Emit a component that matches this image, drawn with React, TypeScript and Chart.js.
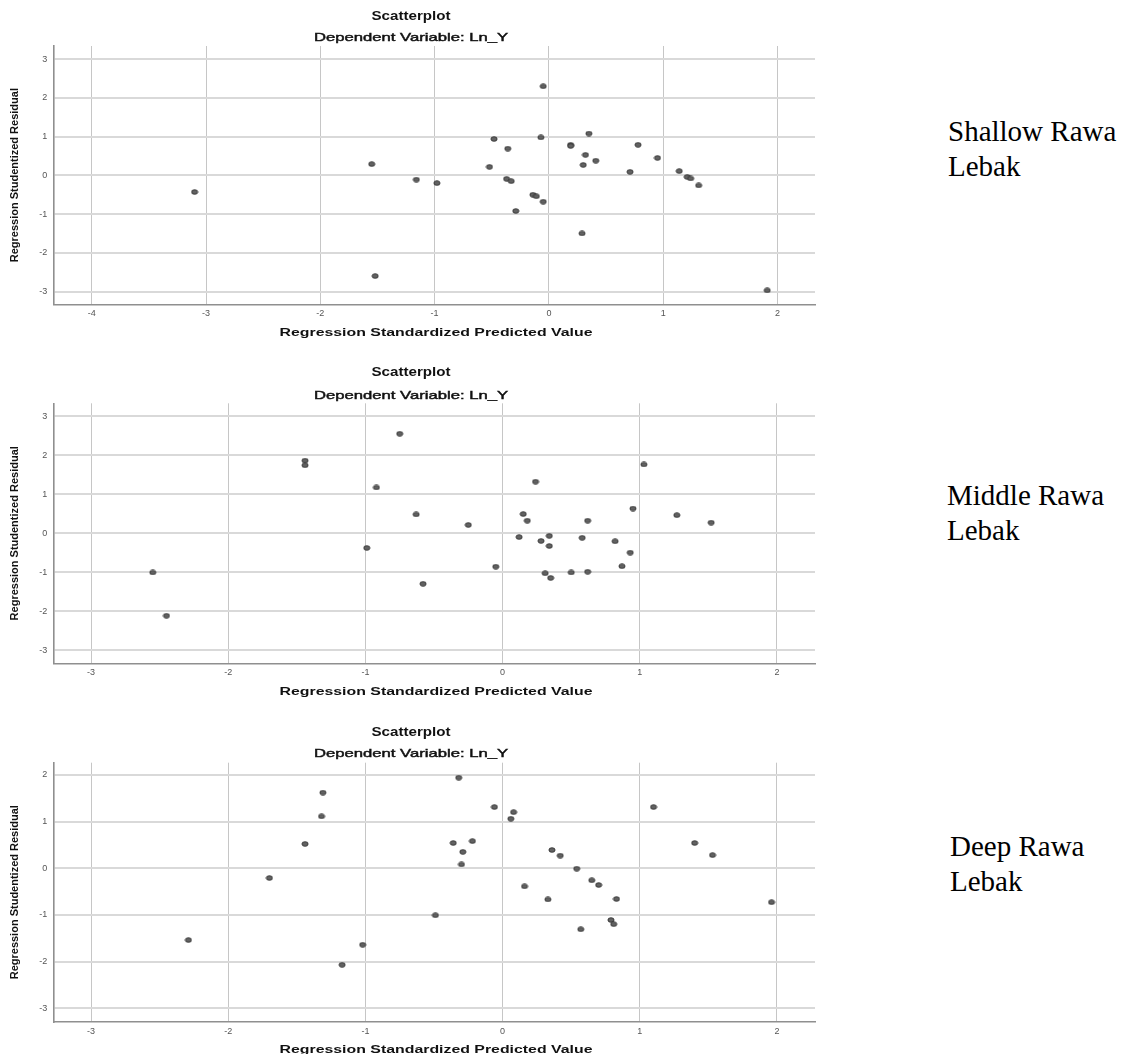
import React, { useEffect, useRef } from "react";
import { Chart, registerables } from "chart.js";

Chart.register(...registerables);

// ---------- data ----------
const shallowX = [-3.10, -1.55, -1.52, -1.16, -0.98, -0.52, -0.48, -0.37, -0.36, -0.33, -0.29, -0.14, -0.11, -0.07, -0.05, 0.19, 0.19, 0.29, 0.30, 0.32, 0.35, 0.41, 0.71, 0.78, 0.95, 1.14, 1.21, 1.24, 1.31, 1.91, -0.05];
const shallowY = [-0.43, 0.29, -2.60, -0.11, -0.20, 0.22, 0.94, -0.09, 0.69, -0.15, -0.92, -0.50, -0.54, 0.98, -0.68, 0.79, 0.76, -1.50, 0.27, 0.53, 1.08, 0.38, 0.09, 0.79, 0.45, 0.11, -0.04, -0.08, -0.26, -2.97, 2.30];

const middleX = [-0.75, -1.44, -1.44, 1.03, 0.24, -0.92, -0.63, -0.25, -0.99, -0.58, -2.55, -2.45, -0.05, 0.12, 0.15, 0.18, 0.28, 0.31, 0.34, 0.34, 0.35, 0.50, 0.58, 0.62, 0.62, 0.82, 0.87, 0.93, 0.95, 1.27, 1.52];
const middleY = [2.55, 1.86, 1.74, 1.76, 1.32, 1.17, 0.48, 0.21, -0.38, -1.30, -1.01, -2.12, -0.86, -0.10, 0.49, 0.32, -0.20, -1.03, -0.07, -0.33, -1.15, -1.01, -0.12, 0.32, -0.99, -0.21, -0.85, -0.50, 0.63, 0.46, 0.27];

const deepX = [-0.32, -1.31, -1.32, -0.06, 0.08, 0.06, 1.10, -1.44, -0.36, -0.22, -0.29, 0.36, 0.42, 1.40, 1.53, -0.30, -1.70, 0.16, 0.33, 0.54, 0.65, 0.70, 0.83, 1.96, -0.49, 0.79, 0.81, 0.57, -2.29, -1.02, -1.17];
const deepY = [1.94, 1.62, 1.11, 1.31, 1.20, 1.06, 1.31, 0.52, 0.54, 0.58, 0.35, 0.39, 0.27, 0.54, 0.28, 0.08, -0.21, -0.39, -0.67, -0.01, -0.26, -0.36, -0.66, -0.73, -1.01, -1.11, -1.20, -1.31, -1.54, -1.64, -2.07];

const xTicksShallow = [-4, -3, -2, -1, 0, 1, 2];
const xTicksOther = [-3, -2, -1, 0, 1, 2];
const yTicksWide = [-3, -2, -1, 0, 1, 2, 3];
const yTicksDeep = [-3, -2, -1, 0, 1, 2];

const chartTitle = "Scatterplot";
const chartSubtitle = "Dependent Variable: Ln_Y";
const xAxisTitle = "Regression Standardized Predicted Value";
const yAxisTitle = "Regression Studentized Residual";
const panelLabels = [["Shallow Rawa", "Lebak"], ["Middle Rawa", "Lebak"], ["Deep Rawa", "Lebak"]];

// ---------- helpers ----------
function makeDot(): HTMLCanvasElement {
  const c = document.createElement("canvas");
  c.width = 8;
  c.height = 6;
  const g = c.getContext("2d")!;
  g.beginPath();
  g.ellipse(4, 3, 3.1, 2.3, 0, 0, Math.PI * 2);
  g.fillStyle = "#626262";
  g.fill();
  g.lineWidth = 0.8;
  g.strokeStyle = "#2e2e2e";
  g.stroke();
  return c;
}

function drawStretched(ctx: CanvasRenderingContext2D, text: string, cx: number, cy: number, font: string, targetW: number, heavier = 0) {
  ctx.save();
  ctx.font = font;
  const w = ctx.measureText(text).width;
  const sx = targetW / w;
  ctx.translate(cx, cy);
  ctx.scale(sx, 1);
  ctx.textAlign = "center";
  ctx.textBaseline = "middle";
  ctx.fillStyle = "#111";
  ctx.fillText(text, 0, 0);
  if (heavier > 0) {
    ctx.strokeStyle = "#111";
    ctx.lineWidth = heavier;
    ctx.strokeText(text, 0, 0);
  }
  ctx.restore();
}

type PanelProps = {
  xs: number[];
  ys: number[];
  xMin: number;
  xMax: number;
  yMin: number;
  yMax: number;
  xTicks: number[];
  yTicks: number[];
  top: number;
  height: number;
  padTop: number;
  padBottom: number;
  titleY: number;
  subY: number;
  xTitleY: number;
};

const FONT = '"Liberation Sans", Arial, sans-serif';

function Panel(p: PanelProps) {
  const ref = useRef<HTMLCanvasElement | null>(null);
  useEffect(() => {
    if (!ref.current) return;
    const dot = makeDot();
    const textPlugin = {
      id: "panelText",
      afterDraw(chart: any) {
        const ctx = chart.ctx as CanvasRenderingContext2D;
        const ca = chart.chartArea;
        drawStretched(ctx, chartTitle, 411, p.titleY, `bold 12px ${FONT}`, 79);
        drawStretched(ctx, chartSubtitle, 411, p.subY, `11.5px ${FONT}`, 194, 0.45);
        drawStretched(ctx, xAxisTitle, 436, p.xTitleY, `bold 11.5px ${FONT}`, 313);
        ctx.save();
        ctx.translate(15, (ca.top + ca.bottom) / 2);
        ctx.rotate(-Math.PI / 2);
        ctx.font = `bold 11px ${FONT}`;
        ctx.textAlign = "center";
        ctx.textBaseline = "middle";
        ctx.fillStyle = "#111";
        ctx.fillText(yAxisTitle, 0, 0);
        ctx.restore();
      },
    };
    const chart = new Chart(ref.current, {
      type: "scatter",
      data: {
        datasets: [
          {
            data: p.xs.map((x, i) => ({ x, y: p.ys[i] })),
            pointStyle: dot as any,
            pointRadius: 4,
          },
        ],
      },
      options: {
        animation: false,
        responsive: false,
        maintainAspectRatio: false,
        layout: { padding: { top: p.padTop, bottom: p.padBottom, left: 0, right: 5 } },
        plugins: { legend: { display: false }, tooltip: { enabled: false }, title: { display: false } },
        scales: {
          x: {
            type: "linear",
            min: p.xMin,
            max: p.xMax,
            afterBuildTicks: (s: any) => {
              s.ticks = p.xTicks.map((v) => ({ value: v }));
            },
            afterFit: (s: any) => {
              s.height = 20;
            },
            grid: { color: "#c6c6c6", lineWidth: 1, drawTicks: false },
            border: { display: true, color: "#8f8f8f", width: 1.6 },
            ticks: { font: { family: FONT, size: 9 }, color: "#555", padding: 4, callback: (v: any) => String(v) },
          },
          y: {
            type: "linear",
            min: p.yMin,
            max: p.yMax,
            afterBuildTicks: (s: any) => {
              s.ticks = p.yTicks.map((v) => ({ value: v }));
            },
            afterFit: (s: any) => {
              s.width = 53.3;
            },
            grid: { color: "#d9d9d9", lineWidth: 2, drawTicks: false },
            border: { display: true, color: "#8f8f8f", width: 1.6 },
            ticks: { font: { family: FONT, size: 9 }, color: "#555", padding: 6, callback: (v: any) => String(v) },
          },
        },
      },
      plugins: [textPlugin as any],
    });
    return () => chart.destroy();
  }, []);
  return (
    <canvas
      ref={ref}
      width={820}
      height={p.height}
      style={{ position: "absolute", left: 0, top: p.top, width: 820, height: p.height, display: "block" }}
    />
  );
}

const labelStyle = (left: number, top: number): React.CSSProperties => ({
  position: "absolute",
  left,
  top,
  fontFamily: '"Liberation Serif", "Times New Roman", serif',
  fontSize: 29,
  lineHeight: "35px",
  color: "#000",
  whiteSpace: "nowrap",
});

export default function App() {
  return (
    <div style={{ position: "absolute", left: 0, top: 0, width: 1123, height: 1054, background: "#fff", overflow: "hidden" }}>
      <Panel
        xs={shallowX}
        ys={shallowY}
        xMin={-4.336}
        xMax={2.328}
        yMin={-3.33}
        yMax={3.34}
        xTicks={xTicksShallow}
        yTicks={yTicksWide}
        top={0}
        height={350}
        padTop={46}
        padBottom={25.7}
        titleY={16.7}
        subY={37.7}
        xTitleY={333}
      />
      <Panel
        xs={middleX}
        ys={middleY}
        xMin={-3.275}
        xMax={2.277}
        yMin={-3.34}
        yMax={3.33}
        xTicks={xTicksOther}
        yTicks={yTicksWide}
        top={350}
        height={360}
        padTop={53.3}
        padBottom={26.7}
        titleY={23}
        subY={46}
        xTitleY={341.7}
      />
      <Panel
        xs={deepX}
        ys={deepY}
        xMin={-3.275}
        xMax={2.277}
        yMin={-3.29}
        yMax={2.26}
        xTicks={xTicksOther}
        yTicks={yTicksDeep}
        top={710}
        height={344}
        padTop={52.7}
        padBottom={12.3}
        titleY={22.7}
        subY={44}
        xTitleY={340}
      />
      <div style={labelStyle(948, 114)}>
        {panelLabels[0][0]}
        <br />
        {panelLabels[0][1]}
      </div>
      <div style={labelStyle(947, 477.5)}>
        {panelLabels[1][0]}
        <br />
        {panelLabels[1][1]}
      </div>
      <div style={labelStyle(950, 829)}>
        {panelLabels[2][0]}
        <br />
        {panelLabels[2][1]}
      </div>
    </div>
  );
}
